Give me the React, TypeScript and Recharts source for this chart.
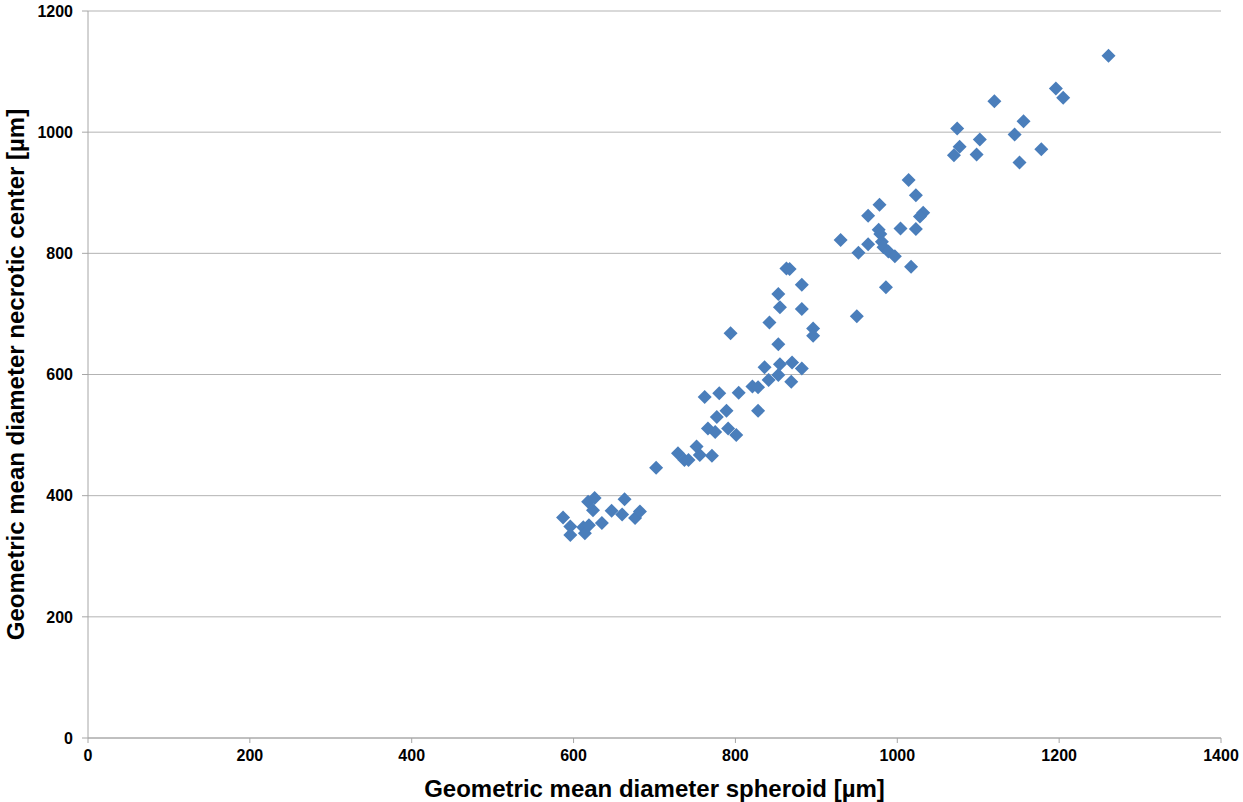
import { ScatterChart, Scatter, XAxis, YAxis, CartesianGrid, Label } from "recharts"

// geometric mean diameter of the spheroid [µm]
const spheroid = [
  587, 596, 596, 612, 614, 618, 626, 624, 619, 635, 647, 663, 660, 676, 682,
  702, 729, 737, 742, 752, 756, 771, 766, 775, 791, 801, 777, 789, 762, 780,
  804, 821, 828, 828, 841, 853, 869, 836, 855, 870, 882, 853, 794, 842, 896,
  896, 853, 855, 882, 863, 867, 882, 950, 986, 1017, 930, 952, 964, 981, 983,
  989, 997, 977, 979, 1004, 1023, 964, 978, 1014, 1023, 1032, 1028, 1070, 1077,
  1074, 1098, 1102, 1120, 1145, 1151, 1156, 1178, 1196, 1205, 1261,
]

// geometric mean diameter of the necrotic center [µm]
const necrotic = [
  364, 349, 335, 348, 338, 390, 396, 376, 351, 355, 375, 394, 369, 363, 374,
  446, 470, 459, 459, 481, 467, 466, 511, 505, 511, 500, 530, 540, 563, 569,
  570, 580, 579, 540, 591, 599, 588, 612, 617, 620, 610, 650, 668, 686, 676,
  664, 733, 711, 708, 775, 774, 748, 696, 744, 778, 822, 801, 815, 819, 810,
  803, 795, 839, 832, 841, 840, 862, 880, 921, 896, 867, 861, 962, 976,
  1006, 963, 988, 1051, 996, 950, 1018, 972, 1072, 1057, 1126,
]

const xTicks = [0, 200, 400, 600, 800, 1000, 1200, 1400]
const yTicks = [0, 200, 400, 600, 800, 1000, 1200]

const points = spheroid.map((x, i) => ({ x, y: necrotic[i] }))

const FONT = "'Liberation Sans', Arial, sans-serif"
const tick = { fill: "#000", fontSize: 16, fontWeight: 700, fontFamily: FONT }
const axisLine = { stroke: "#a6a6a6" }

function Diamond(props: any) {
  const { cx, cy } = props
  const r = 7
  return (
    <polygon
      points={`${cx},${cy - r} ${cx + r},${cy} ${cx},${cy + r} ${cx - r},${cy}`}
      fill="#4a7ebb"
    />
  )
}

function YTitle(props: any) {
  const { x, y, height } = props.viewBox
  const cx = x + 15
  const cy = y + height / 2
  return (
    <text
      x={cx}
      y={cy}
      transform={`rotate(-90 ${cx} ${cy})`}
      textAnchor="middle"
      dominantBaseline="central"
      fontSize={24}
      fontWeight={700}
      fontFamily={FONT}
      fill="#000"
    >
      Geometric mean diameter necrotic center [µm]
    </text>
  )
}

export default function App() {
  return (
    <div style={{ position: "absolute", left: 0, top: 0, background: "#fff" }}>
      <ScatterChart
        width={1243}
        height={802}
        margin={{ top: 11, right: 22, left: 0, bottom: 0 }}
      >
        <CartesianGrid vertical={false} stroke="#b3b3b3" />
        <XAxis
          type="number"
          dataKey="x"
          domain={[0, 1400]}
          ticks={xTicks}
          interval={0}
          height={64}
          tick={tick}
          tickSize={5}
          tickMargin={7}
          axisLine={axisLine}
          tickLine={axisLine}
        >
          <Label
            value="Geometric mean diameter spheroid [µm]"
            position="insideBottom"
            offset={5}
            style={{ fill: "#000", fontSize: 24, fontWeight: 700, fontFamily: FONT }}
          />
        </XAxis>
        <YAxis
          type="number"
          dataKey="y"
          domain={[0, 1200]}
          ticks={yTicks}
          interval={0}
          width={88}
          tick={tick}
          tickSize={6}
          tickMargin={9}
          axisLine={axisLine}
          tickLine={axisLine}
        >
          <Label content={YTitle} />
        </YAxis>
        <Scatter data={points} shape={Diamond} isAnimationActive={false} />
      </ScatterChart>
    </div>
  )
}
